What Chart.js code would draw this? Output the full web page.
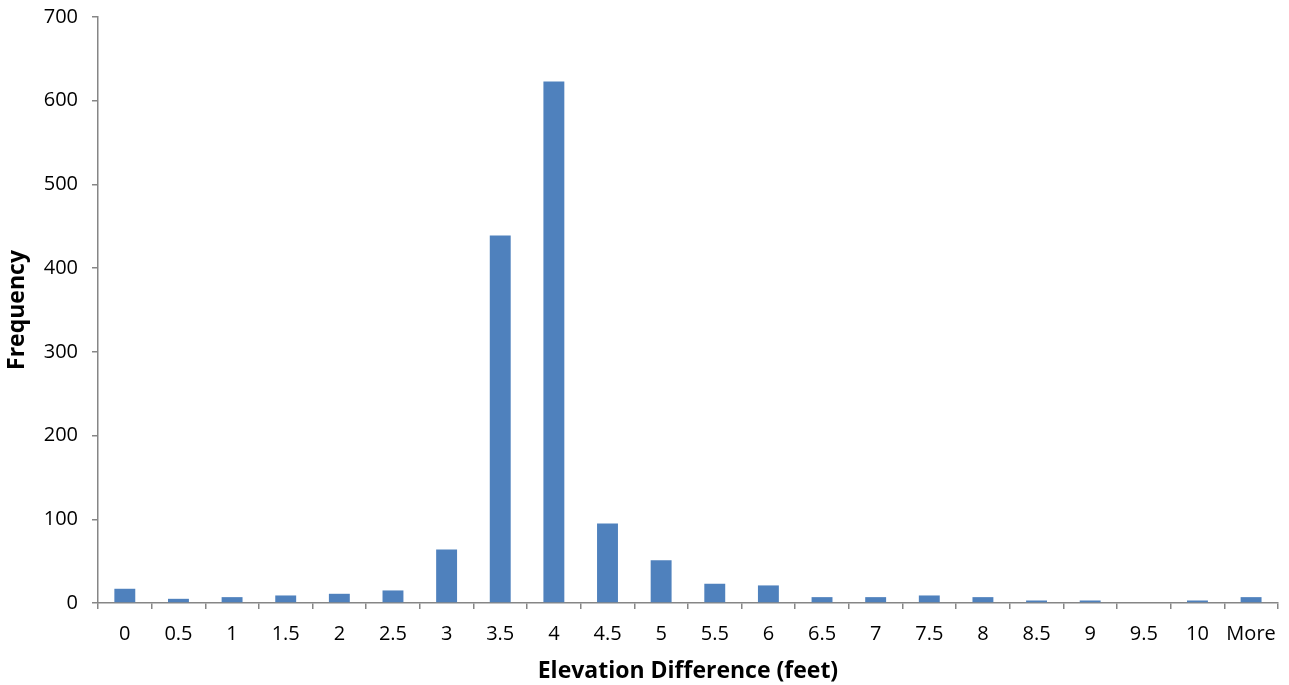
<!DOCTYPE html>
<html>
<head>
<meta charset="utf-8">
<script src="https://cdn.jsdelivr.net/npm/chart.js@4"></script>
<style>
  html, body { margin: 0; padding: 0; background: #fff; }
  #wrap { width: 1289px; height: 685px; }
</style>
</head>
<body>
<div id="wrap"><canvas id="histChart" width="1289" height="685"></canvas></div>
<script>
// bins (feet) and counts
const bins = ['0', '0.5', '1', '1.5', '2', '2.5', '3', '3.5', '4', '4.5', '5',
  '5.5', '6', '6.5', '7', '7.5', '8', '8.5', '9', '9.5', '10', 'More'];
const frequency = [17, 5, 7, 9, 11, 15, 64, 439, 623, 95, 51,
  23, 21, 7, 7, 9, 7, 3, 3, 0, 3, 7];

const yMin = 0;
const yMax = 700;
const yStep = 100;

const axisColor = '#868686';
const barColor = '#4F81BD';
const fontFamily = "'Open Sans', 'Liberation Sans', sans-serif";

const histChart = new Chart(document.getElementById('histChart').getContext('2d'), {
  type: 'bar',
  data: {
    labels: bins,
    datasets: [{
      label: 'Frequency',
      data: frequency,
      backgroundColor: barColor,
      borderWidth: 0,
      barPercentage: 0.39,
      categoryPercentage: 1.0
    }]
  },
  options: {
    responsive: false,
    animation: false,
    layout: { padding: { left: 0, top: 17, right: 9, bottom: 0 } },
    plugins: {
      legend: { display: false },
      tooltip: { enabled: false }
    },
    scales: {
      x: {
        grid: {
          display: true,
          offset: true,
          drawOnChartArea: false,
          drawTicks: true,
          tickLength: 6,
          color: axisColor,
          lineWidth: 1.5
        },
        border: { display: true, color: axisColor, width: 1.5 },
        ticks: {
          color: '#000',
          padding: 13,
          maxRotation: 0,
          autoSkip: false,
          font: { family: fontFamily, size: 20 }
        },
        title: {
          display: true,
          text: 'Elevation Difference (feet)',
          color: '#000',
          padding: { top: 6, bottom: 0 },
          font: { family: fontFamily, size: 23, weight: 'bold' }
        },
        afterFit: scale => { scale.height = 82; }
      },
      y: {
        min: yMin,
        max: yMax,
        grid: {
          display: true,
          drawOnChartArea: false,
          drawTicks: true,
          tickLength: 6,
          color: axisColor,
          lineWidth: 1.5
        },
        border: { display: true, color: axisColor, width: 1.5 },
        ticks: {
          stepSize: yStep,
          color: '#000',
          padding: 14,
          font: { family: fontFamily, size: 20 }
        },
        title: {
          display: true,
          text: 'Frequency',
          color: '#000',
          padding: { top: 4, bottom: 0 },
          font: { family: fontFamily, size: 23, weight: 'bold' }
        },
        afterFit: scale => {
          scale.width = 98;
          // let the 700 label sit above the plot top, as in the original
          scale.paddingTop = 0;
          scale.paddingBottom = 0;
        }
      }
    }
  }
});
</script>
</body>
</html>
